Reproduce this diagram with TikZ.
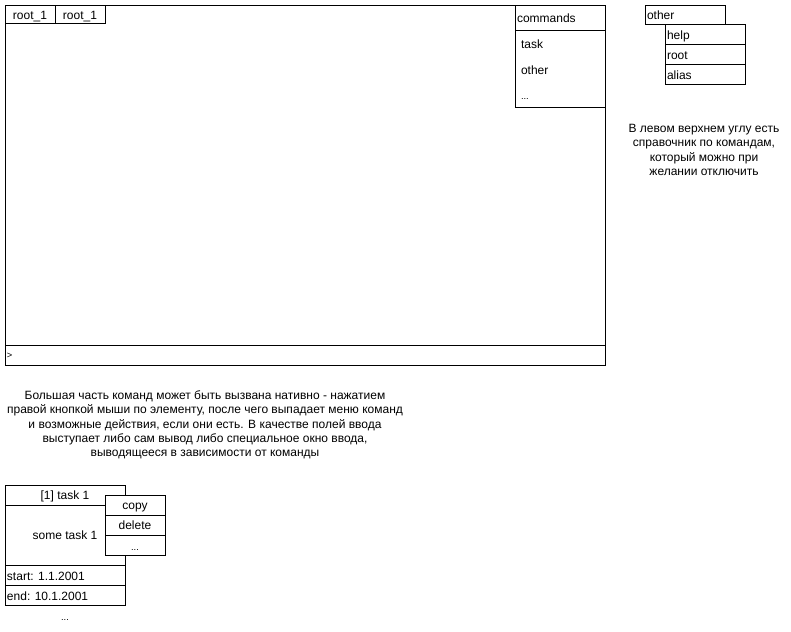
\documentclass[tikz,border=0pt]{standalone}
\usepackage{fontspec}
\setmainfont{Liberation Sans}
\begin{document}
\begin{tikzpicture}[x=0.75pt,y=-0.75pt,
  every node/.style={font=\fontsize{9}{10.5}\selectfont, inner sep=0pt, outer sep=0pt},
  frame/.style={draw=black, line width=0.75pt, fill=white, anchor=north west},
  label/.style={anchor=base},
  lefttxt/.style={anchor=base west},
  dots/.style={font=\fontsize{7}{8}\selectfont},
  note/.style={align=center, font=\fontsize{9}{10.7}\selectfont}]
\useasboundingbox (0,0) rectangle (791,631);
% main window with its two tabs and the input line
\node[frame, minimum width=600*0.75pt, minimum height=359*0.75pt] (win) at (5,6) {};
\node[frame, minimum width=50*0.75pt, minimum height=18*0.75pt] (tabA) at (5,6) {};
\node[frame, minimum width=50*0.75pt, minimum height=18*0.75pt] (tabB) at (55,6) {};
\node[label] (tabAt) at (30,19.5) {root\_1};
\node[label] (tabBt) at (80,19.5) {root\_1};
\draw[line width=0.75pt] (5,345) coordinate (inL) -- (605,345) coordinate (inR);
\node[lefttxt, dots] (prompt) at (7,358) {>};
% commands panel
\node[frame, minimum width=90*0.75pt, minimum height=102*0.75pt] (cmd) at (515,6) {};
\draw[line width=0.75pt] (515,31) coordinate (cmdL) -- (605,31) coordinate (cmdR);
\node[lefttxt] (cmdh) at (517,22.5) {commands};
\node[lefttxt] (c1) at (521,48.5) {task};
\node[lefttxt] (c2) at (521,74.5) {other};
\node[lefttxt, dots] (c3) at (521,100) {...};
% "other" submenu
\node[frame, minimum width=80*0.75pt, minimum height=19*0.75pt] (oth) at (645,6) {};
\node[lefttxt] (otht) at (647,19.5) {other};
\node[frame, minimum width=80*0.75pt, minimum height=20*0.75pt] (m1) at (665,25) {};
\node[frame, minimum width=80*0.75pt, minimum height=20*0.75pt] (m2) at (665,45) {};
\node[frame, minimum width=80*0.75pt, minimum height=20*0.75pt] (m3) at (665,65) {};
\node[lefttxt] (m1t) at (667,39.5) {help};
\node[lefttxt] (m2t) at (667,59.5) {root};
\node[lefttxt] (m3t) at (667,79.5) {alias};
% notes
\node[note] (note1) at (704,150) {В левом верхнем углу есть\\справочник по командам,\\который можно при\\желании отключить};
\node[note] (note2) at (205,425) {Большая часть команд может быть вызвана нативно - нажатием\\правой кнопкой мыши по элементу, после чего выпадает меню команд\\и возможные действия, если они есть. В качестве полей ввода\\выступает либо сам вывод либо специальное окно ввода,\\выводящееся в зависимости от команды};
% task card
\node[frame, minimum width=120*0.75pt, minimum height=20*0.75pt] (th) at (5,485) {};
\node[frame, minimum width=120*0.75pt, minimum height=60*0.75pt] (tb) at (5,505) {};
\node[frame, minimum width=120*0.75pt, minimum height=20*0.75pt] (ts) at (5,565) {};
\node[frame, minimum width=120*0.75pt, minimum height=20*0.75pt] (te) at (5,585) {};
\node[label] (tht) at (65,499.5) {[1] task 1};
\node[label] (tbt) at (65,539.5) {some task 1};
\node[lefttxt] (tst) at (7,580) {start: 1.1.2001};
\node[lefttxt] (tet) at (7,600) {end: 10.1.2001};
\node[label, dots] (more) at (65,620) {...};
% context menu over the card
\node[frame, minimum width=60*0.75pt, minimum height=20*0.75pt] (p1) at (105,495) {};
\node[frame, minimum width=60*0.75pt, minimum height=20*0.75pt] (p2) at (105,515) {};
\node[frame, minimum width=60*0.75pt, minimum height=20*0.75pt] (p3) at (105,535) {};
\node[label] (p1t) at (135,509.5) {copy};
\node[label] (p2t) at (135,529.5) {delete};
\node[label, dots] (p3t) at (135,550) {...};
\end{tikzpicture}
\end{document}
